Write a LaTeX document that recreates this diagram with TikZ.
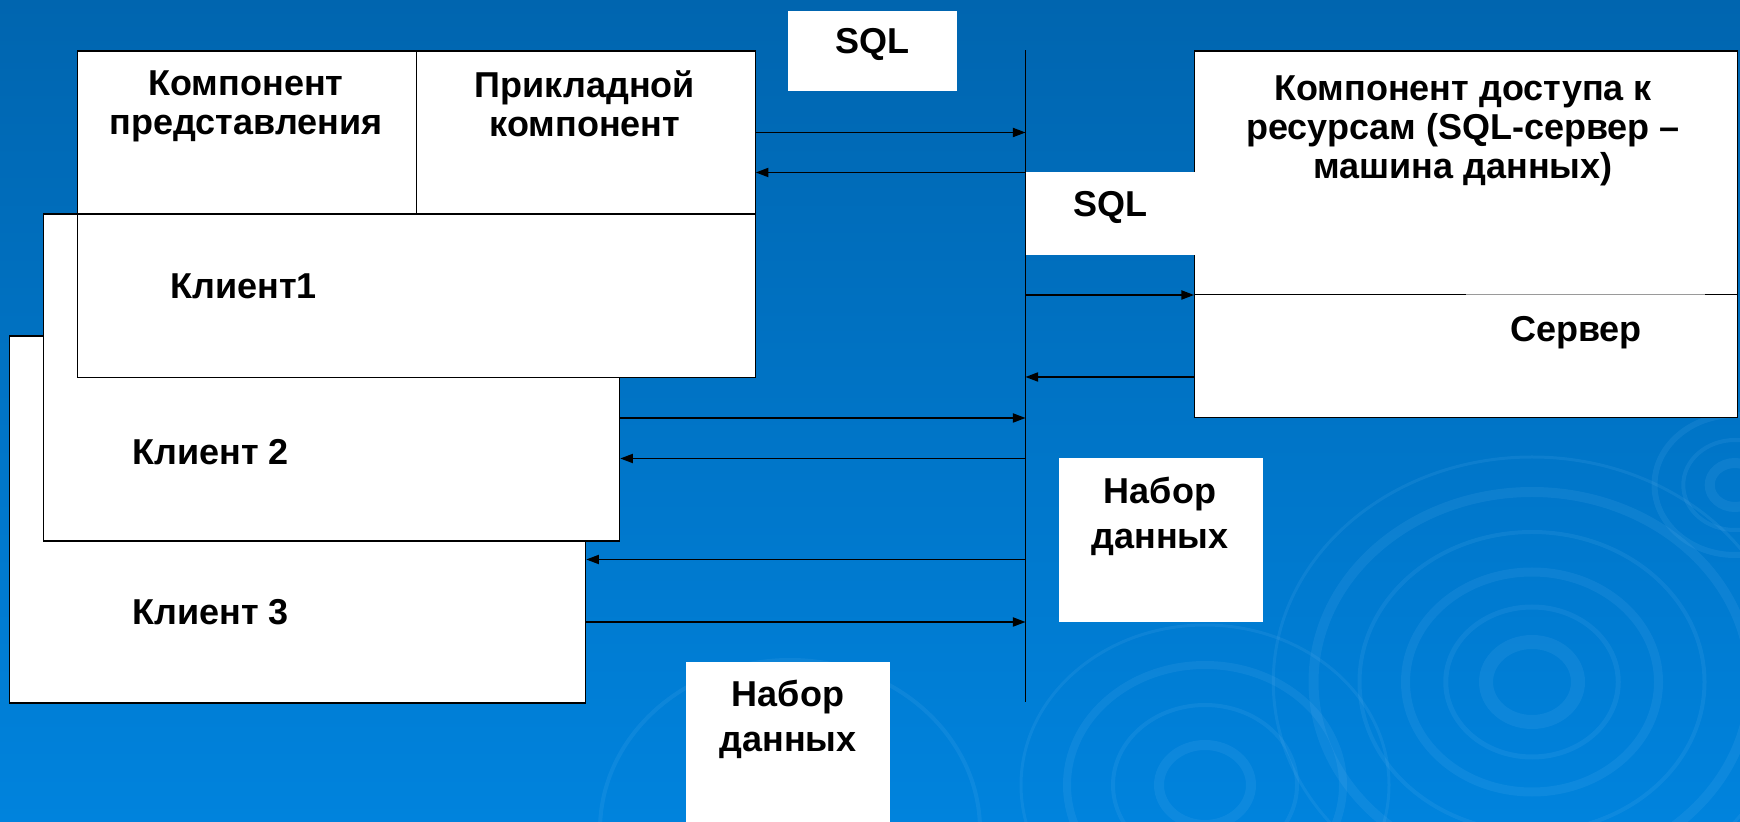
\documentclass[tikz,border=0pt]{standalone}
\usepackage{fontspec}
\setmainfont{Liberation Sans}
\usepackage{xcolor}
\definecolor{bgTop}{HTML}{0065AF}
\definecolor{bgBottom}{HTML}{0083DD}
\definecolor{ringBlue}{HTML}{7CC2F7}
\definecolor{seamGray}{HTML}{9A9A9A}
\usepackage{tikz}
\usetikzlibrary{arrows.meta, positioning}
\newcommand{\lblFont}{\fontsize{18}{20}\selectfont\bfseries}

\tikzset{
  panel/.style={draw=black, fill=white, line width=0.65pt, inner sep=0pt, anchor=north west},
  patch/.style={fill=white, inner sep=0pt, anchor=north west},
  caption/.style={font=\lblFont, text=black, inner sep=0pt, align=center},
  flow/.style={draw=black, line width=0.65pt, -{Triangle[length=6.3pt,width=4.6pt]}},
  ring/.style={draw=ringBlue, opacity=0.11}
}

\begin{document}
\begin{tikzpicture}[x=0.5pt, y=-0.5pt]
        \useasboundingbox (0,0) rectangle (1740,822);
        \fill[top color=bgTop, bottom color=bgBottom] (0,0) rectangle (1740,822);

        % background ripples
        \begin{scope}[ring]
          \foreach \r/\w in {40/7, 75/2.5, 110/4.5, 150/2, 190/5, 225/1.5}
            \draw[line width=\w pt] (1532,682) ellipse[x radius=1.15*\r, y radius=\r];
          \foreach \r/\w in {40/5, 80/2, 120/4, 160/1.5}
            \draw[line width=\w pt] (1205,785) ellipse[x radius=1.15*\r, y radius=\r];
          \foreach \r/\w in {22/5, 45/2, 70/3}
            \draw[line width=\w pt] (1735,485) ellipse[x radius=1.15*\r, y radius=\r];
          \draw[line width=2pt] (790,830) ellipse[x radius=190, y radius=170];
        \end{scope}

        % clients, back to front
        \node[panel, minimum width=288.25pt, minimum height=183.5pt] (k3) at (8.5,335.5) {};
        \node[panel, minimum width=288.25pt, minimum height=163.6pt] (k2) at (42.5,213.3) {};
        \node[panel, minimum width=338.9pt, minimum height=163.1pt] (k1) at (76.7,50.5) {};
        \node[panel, minimum width=169.5pt, minimum height=81.5pt] (cellView) at (76.7,50.5) {};
        \node[panel, minimum width=169.4pt, minimum height=81.5pt] (cellApp) at (415.7,50.5) {};

        \node[caption, anchor=north] (tView) at (246,70) {Компонент\\[-0.5pt]представления};
        \node[caption, anchor=north] (tApp) at (585,70) {Прикладной\\[-0.5pt]компонент};
        \node[caption, anchor=base west] (tK1) at (170,299) {Клиент1};
        \node[caption, anchor=base west] (tK2) at (132,464.5) {Клиент 2};
        \node[caption, anchor=base west] (tK3) at (132,625) {Клиент 3};

        % server
        \node[panel, minimum width=271.5pt, minimum height=183.25pt] (srv) at (1194,50.5) {};
        \draw[line width=0.65pt] (srv.west |- 0,294.5) -- (srv.east |- 0,294.5);
        \node[patch, minimum width=119pt, minimum height=61.25pt] (srvPatch) at (1466,294.5) {};
        \draw[seamGray, line width=0.4pt] (srvPatch.north west) -- (srvPatch.north east);
        \draw[line width=0.35pt] (srvPatch.south west) -- (srvPatch.south east);
        \node[caption, anchor=north] (tSrvTop) at (1463,75) {Компонент доступа к\\[-0.5pt]ресурсам (SQL-сервер –\\[-0.5pt]машина данных)};
        \node[caption, anchor=base] (tSrv) at (1576,342) {Сервер};

        % message labels
        \node[patch, minimum width=84.5pt, minimum height=40pt] (sqlA) at (788,11) {};
        \node[caption, anchor=base] (tSqlA) at (872,54) {SQL};
        \node[patch, minimum width=85pt, minimum height=41.5pt] (sqlB) at (1025,172) {};
        \node[caption, anchor=base] (tSqlB) at (1110,217) {SQL};
        \node[patch, minimum width=101.85pt, minimum height=82pt] (setA) at (1059,457.7) {};
        \node[caption, anchor=north] (tSetA) at (1160,477) {Набор\\[2.5pt]данных};
        \node[patch, minimum width=102pt, minimum height=81pt] (setB) at (686,662) {};
        \node[caption, anchor=north] (tSetB) at (788,680) {Набор\\[2.5pt]данных};

        % network line
        \coordinate (busTop) at (1025.5,50.5);
        \coordinate (busEnd) at (1025.5,702.5);
        \draw[line width=0.65pt] (busTop) -- (busEnd);

        \draw[flow] (k1.east |- 0,132.5) -- (busTop |- 0,132.5);
        \draw[flow] (busTop |- 0,172.5) -- (k1.east |- 0,172.5);
        \draw[flow] (busTop |- 0,295) -- (srv.west |- 0,295);
        \draw[flow] (srv.west |- 0,377) -- (busTop |- 0,377);
        \draw[flow] (k2.east |- 0,418) -- (busTop |- 0,418);
        \draw[flow] (busTop |- 0,458.5) -- (k2.east |- 0,458.5);
        \draw[flow] (busTop |- 0,559.5) -- (k3.east |- 0,559.5);
        \draw[flow] (k3.east |- 0,622) -- (busTop |- 0,622);
      \end{tikzpicture}
\end{document}
